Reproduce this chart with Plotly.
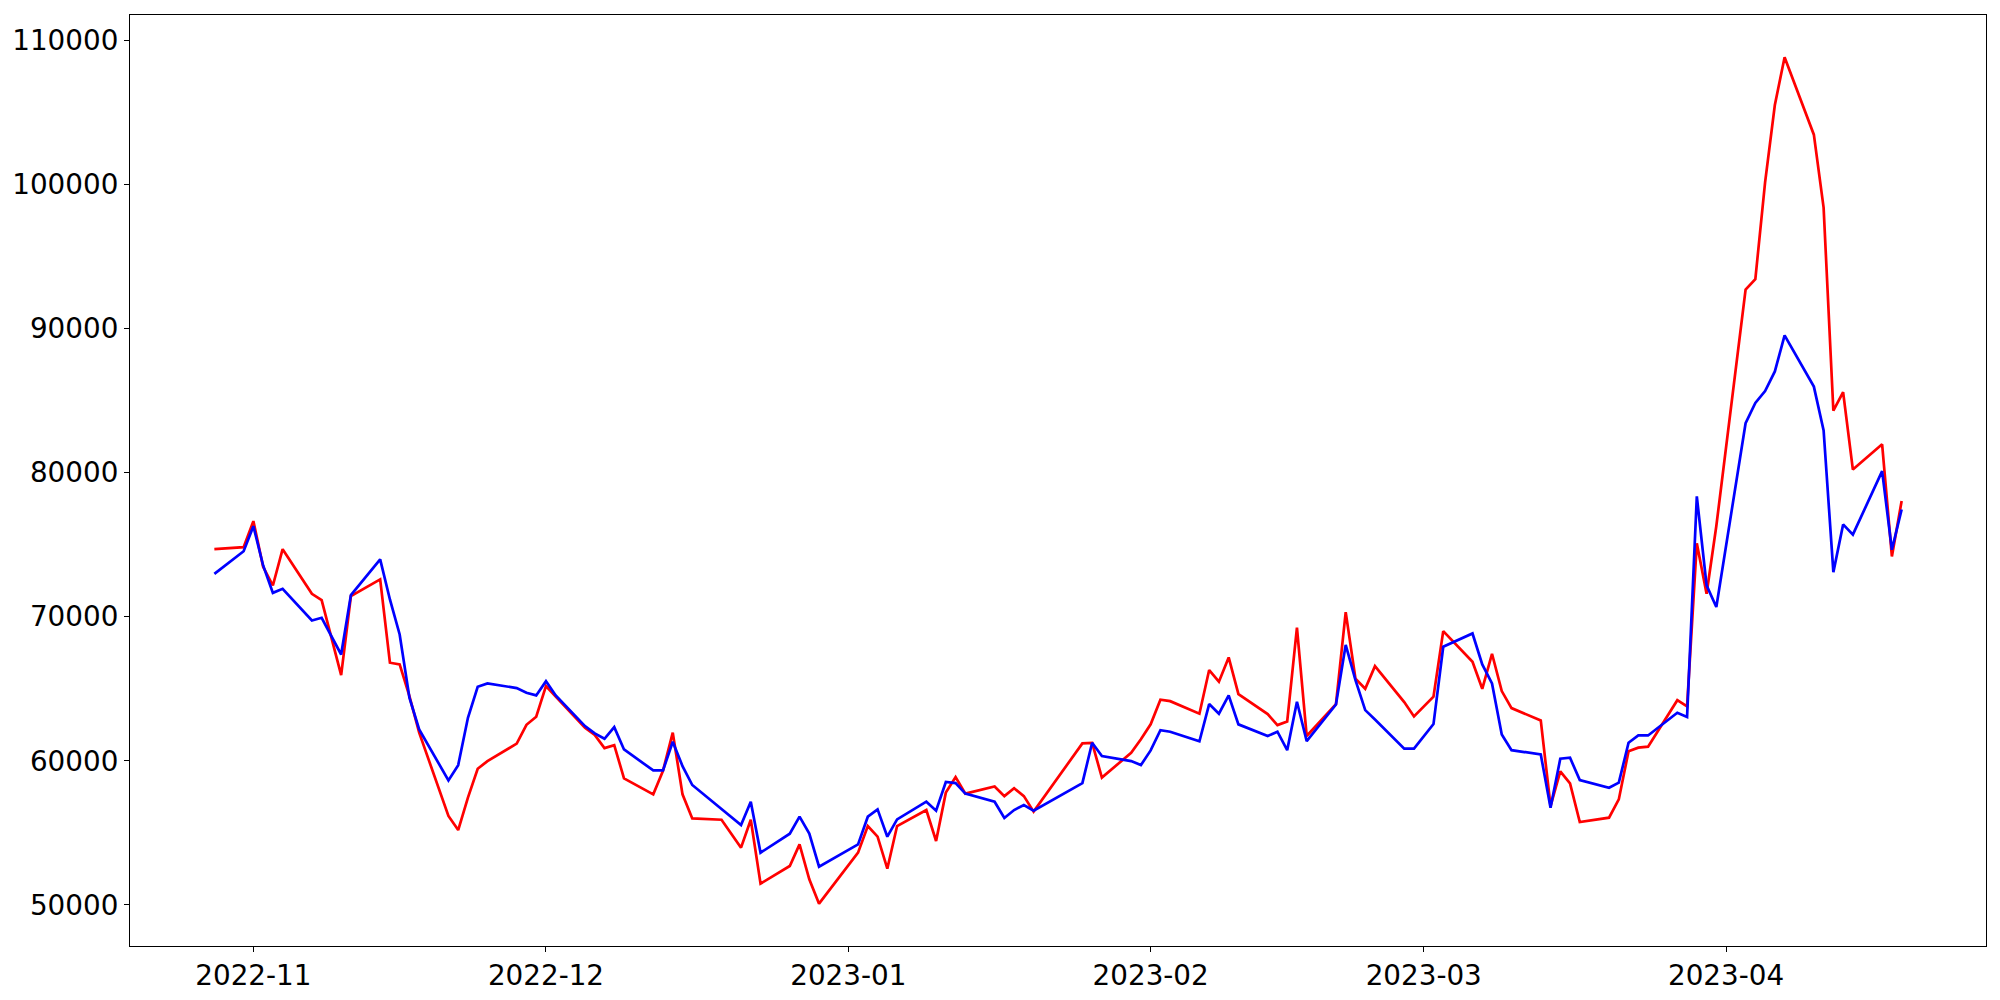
import plotly.graph_objects as go
import pandas as pd

dates = [
    "2022-10-28", "2022-10-31", "2022-11-01", "2022-11-02", "2022-11-03", "2022-11-04",
    "2022-11-07", "2022-11-08", "2022-11-10", "2022-11-11", "2022-11-14", "2022-11-15",
    "2022-11-16", "2022-11-17", "2022-11-18", "2022-11-21", "2022-11-22", "2022-11-23",
    "2022-11-24", "2022-11-25", "2022-11-28", "2022-11-29", "2022-11-30", "2022-12-01",
    "2022-12-02", "2022-12-05", "2022-12-06", "2022-12-07", "2022-12-08", "2022-12-09",
    "2022-12-12", "2022-12-13", "2022-12-14", "2022-12-15", "2022-12-16", "2022-12-19",
    "2022-12-21", "2022-12-22", "2022-12-23", "2022-12-26", "2022-12-27", "2022-12-28",
    "2022-12-29", "2023-01-02", "2023-01-03", "2023-01-04", "2023-01-05", "2023-01-06",
    "2023-01-09", "2023-01-10", "2023-01-11", "2023-01-12", "2023-01-13", "2023-01-16",
    "2023-01-17", "2023-01-18", "2023-01-19", "2023-01-20", "2023-01-25", "2023-01-26",
    "2023-01-27", "2023-01-30", "2023-01-31", "2023-02-01", "2023-02-02", "2023-02-03",
    "2023-02-06", "2023-02-07", "2023-02-08", "2023-02-09", "2023-02-10", "2023-02-13",
    "2023-02-14", "2023-02-15", "2023-02-16", "2023-02-17", "2023-02-20", "2023-02-21",
    "2023-02-22", "2023-02-23", "2023-02-24", "2023-02-27", "2023-02-28", "2023-03-02",
    "2023-03-03", "2023-03-06", "2023-03-07", "2023-03-08", "2023-03-09", "2023-03-10",
    "2023-03-13", "2023-03-14", "2023-03-15", "2023-03-16", "2023-03-17", "2023-03-20",
    "2023-03-21", "2023-03-22", "2023-03-23", "2023-03-24", "2023-03-27", "2023-03-28",
    "2023-03-29", "2023-03-30", "2023-03-31", "2023-04-03", "2023-04-04", "2023-04-05",
    "2023-04-06", "2023-04-07", "2023-04-10", "2023-04-11", "2023-04-12", "2023-04-13",
    "2023-04-14", "2023-04-17", "2023-04-18", "2023-04-19",
]

red_values = [
    74690, 74830, 76640, 73470, 72170, 74690,
    71590, 71150, 65950, 71430, 72590, 66810,
    66690, 64490, 61950, 56170, 55190, 57440,
    59450, 59980, 61190, 62500, 63060, 65190,
    64450, 62300, 61800, 60880, 61090, 58780,
    57670, 59310, 61950, 57670, 56000, 55910,
    53970, 55910, 51470, 52700, 54200, 51770,
    50080, 53620, 55470, 54730, 52510, 55470,
    56580, 54430, 57790, 58870, 57720, 58220,
    57550, 58090, 57550, 56470, 61210, 61250,
    58830, 60560, 61490, 62530, 64240, 64140,
    63270, 66300, 65490, 67180, 64630, 63240,
    62480, 62730, 69240, 61720, 63940, 70320,
    65700, 65000, 66570, 64080, 63080, 64450,
    69000, 66880, 65000, 67430, 64840, 63660,
    62800, 56860, 59260, 58430, 55750, 56050,
    57320, 60670, 60910, 60980, 64210, 63780,
    75100, 71600, 76300, 92720, 93440, 100160,
    105530, 108840, 103470, 98400, 84310, 85600,
    80220, 81970, 74190, 78040,
]

blue_values = [
    72980, 74550, 76290, 73560, 71660, 71940,
    69740, 69930, 67380, 71500, 73980, 71200,
    68770, 64380, 62180, 58640, 59700, 62990,
    65140, 65370, 65050, 64720, 64540, 65530,
    64540, 62410, 61900, 61530, 62340, 60790,
    59330, 59330, 61320, 59630, 58320, 56630,
    55540, 57160, 53620, 54940, 56120, 54950,
    52650, 54200, 56120, 56630, 54730, 55930,
    57160, 56540, 58530, 58450, 57720, 57160,
    56030, 56580, 56930, 56540, 58450, 61250,
    60330, 59980, 59700, 60720, 62130, 62020,
    61350, 63940, 63270, 64540, 62530, 61720,
    62020, 60740, 64100, 61370, 63910, 68050,
    65600, 63520, 62870, 60840, 60840, 62550,
    67920, 68840, 66690, 65370, 61830, 60740,
    60440, 56740, 60140, 60210, 58660, 58130,
    58480, 61250, 61760, 61760, 63340, 63050,
    78360, 72180, 70680, 83440, 84840, 85670,
    87030, 89530, 85980, 82940, 73100, 76410,
    75700, 80110, 74650, 77450,
]

x = pd.to_datetime(dates)

fig = go.Figure()
fig.add_trace(go.Scatter(x=x, y=red_values, mode="lines",
                         line=dict(color="#ff0000", width=2.7), showlegend=False))
fig.add_trace(go.Scatter(x=x, y=blue_values, mode="lines",
                         line=dict(color="#0000ff", width=2.7), showlegend=False))

# matplotlib-like 5% margins
xmin, xmax = x.min(), x.max()
xpad = (xmax - xmin) * 0.05
allv = red_values + blue_values
ymin, ymax = min(allv), max(allv)
ypad = (ymax - ymin) * 0.05

font = dict(family="DejaVu Sans", size=27.8, color="black")

# page body has an 8px default margin; size the figure to compensate
fig.update_layout(
    width=1992, height=992,
    margin=dict(l=122, r=14, t=7, b=54, pad=0),
    paper_bgcolor="white", plot_bgcolor="white",
    font=font,
    showlegend=False,
)
fig.update_xaxes(
    range=[xmin - xpad, xmax + xpad],
    tick0="2022-11-01", dtick="M1", tickformat="%Y-%m",
    ticks="outside", ticklen=5, tickwidth=1.1, tickcolor="black",
    showline=True, linecolor="black", linewidth=1.1, mirror=True,
    showgrid=False, zeroline=False, tickfont=font, automargin=False,
)
fig.update_yaxes(
    range=[ymin - ypad, ymax + ypad],
    tick0=0, dtick=10000, tickformat="d",
    ticks="outside", ticklen=5, tickwidth=1.1, tickcolor="black",
    showline=True, linecolor="black", linewidth=1.1, mirror=True,
    showgrid=False, zeroline=False, tickfont=font, automargin=False,
)

fig.write_html("out.html")
